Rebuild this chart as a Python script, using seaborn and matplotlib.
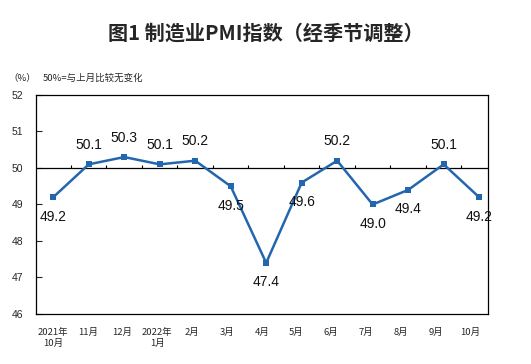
import numpy as np
import pandas as pd
import matplotlib
matplotlib.use("Agg")
import matplotlib.pyplot as plt
import seaborn as sns

months = ["2021年\n10月", "11月", "12月", "2022年\n1月", "2月", "3月", "4月",
          "5月", "6月", "7月", "8月", "9月", "10月"]
pmi = [49.2, 50.1, 50.3, 50.1, 50.2, 49.5, 47.4, 49.6, 50.2, 49.0, 49.4, 50.1, 49.2]
label_above = [False, True, True, True, True, False, False, False, True, False, False, True, False]
yticks = [46, 47, 48, 49, 50, 51, 52]

sns.set_theme(style="white")
plt.rcParams["font.family"] = ["Noto Sans CJK SC", "DejaVu Sans"]

df = pd.DataFrame({"x": np.arange(len(pmi)), "pmi": pmi})
blue = "#2466AE"

fig = plt.figure(figsize=(5.31, 3.64), dpi=100)
ax = fig.add_axes([35.5 / 531, 50 / 364, 452.5 / 531, 219 / 364])

sns.lineplot(data=df, x="x", y="pmi", ax=ax, color=blue, lw=1.8,
             marker="s", markersize=5, markeredgewidth=0)

ax.set_xlim(-0.5, 12.25)
ax.set_ylim(46, 52)

# 50 reference line with category boundary ticks
ax.axhline(50, color="black", lw=0.9, zorder=1)
ax.vlines(np.arange(len(pmi) - 1) + 0.5, 50, 50.08, color="black", lw=0.8)

for x, v, up in zip(df.x, pmi, label_above):
    ax.annotate(f"{v:.1f}", (x, v), xytext=(0, 9 if up else -9),
                textcoords="offset points", ha="center",
                va="bottom" if up else "top", fontsize=10,
                family="Liberation Sans", color="#111111")

n = len(months)
ax.set_xticks(-0.5 + (np.arange(n) + 0.5) * 12.75 / n)
ax.set_xticklabels(months, fontsize=6.8, linespacing=1.3)
ax.tick_params(axis="x", length=0, pad=10)
ax.set_yticks(yticks)
ax.set_yticklabels([str(t) for t in yticks], fontsize=7.5, family="Liberation Sans")
ax.tick_params(axis="y", direction="in", length=4, width=0.8, pad=9, left=True)
ax.set_xlabel("")
ax.set_ylabel("")
for s in ax.spines.values():
    s.set_color("black")
    s.set_linewidth(0.9)

fig.text(0.5, 1 - 33 / 364, "图1 制造业PMI指数（经季节调整）", ha="center",
         va="center", fontsize=14.5, fontweight="bold")
fig.text(8 / 531, 1 - 78 / 364, "（%）", ha="left", va="center", fontsize=6.8)
fig.text(43 / 531, 1 - 78 / 364, "50%=与上月比较无变化", ha="left", va="center", fontsize=6.8)

fig.savefig("out.png", dpi=100)
